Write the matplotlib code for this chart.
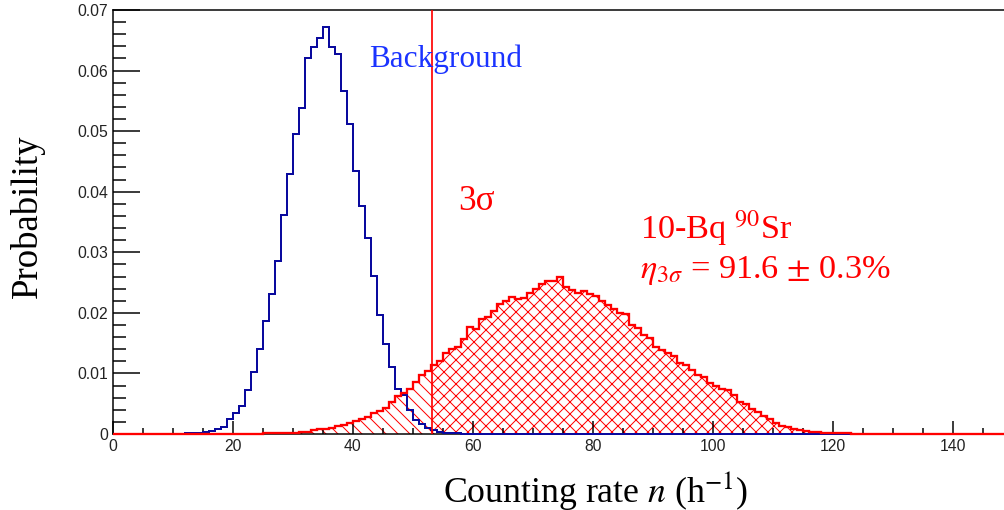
import numpy as np
import matplotlib
matplotlib.use("Agg")
import matplotlib.pyplot as plt
from matplotlib.patches import Rectangle
from matplotlib.ticker import MultipleLocator, FuncFormatter

# histogram binning (1 count/h per bin)
n_edges = np.arange(0, 151, 1)

# background distribution, bins starting at n = 10
bkg_start = 10
bkg_vals = [0.00005, 0.00005, 0.0001, 0.0001, 0.0002, 0.0003, 0.00055, 0.0009,
            0.0012, 0.0024, 0.0035, 0.0047, 0.0073, 0.0103, 0.0141, 0.0187,
            0.0231, 0.0286, 0.0362, 0.0429, 0.0495, 0.0539, 0.0620, 0.0639,
            0.0653, 0.0672, 0.0639, 0.0627, 0.0567, 0.0512, 0.0434, 0.0376,
            0.0323, 0.0261, 0.0197, 0.0149, 0.0111, 0.0074, 0.0064, 0.0040,
            0.0023, 0.0017, 0.0010, 0.0007, 0.0004, 0.0002, 0.0002, 0.0001]

# 10-Bq Sr-90 source distribution, bins starting at n = 25
src_start = 25
src_vals = [0.0001, 0.0001, 0.0001, 0.0002, 0.0002, 0.0002, 0.0003, 0.0003,
            0.0006, 0.0008, 0.0009, 0.0010, 0.0014, 0.0015, 0.0018, 0.0021,
            0.0025, 0.0028, 0.0034, 0.0038, 0.0043, 0.0053, 0.0063, 0.0067,
            0.0075, 0.0086, 0.0097, 0.0104, 0.0114, 0.0120, 0.0134, 0.0141,
            0.0143, 0.0157, 0.0176, 0.0174, 0.0190, 0.0193, 0.0203, 0.0214,
            0.0220, 0.0227, 0.0223, 0.0225, 0.0232, 0.0240, 0.0248, 0.0252,
            0.0252, 0.0260, 0.0242, 0.0238, 0.0232, 0.0236, 0.0231, 0.0228,
            0.0220, 0.0213, 0.0207, 0.0200, 0.0198, 0.0180, 0.0175, 0.0163,
            0.0158, 0.0143, 0.0139, 0.0134, 0.0128, 0.0118, 0.0114, 0.0105,
            0.0097, 0.0094, 0.0084, 0.0079, 0.0075, 0.0073, 0.0064, 0.0053,
            0.0050, 0.0041, 0.0037, 0.0029, 0.0024, 0.0018, 0.0014, 0.0012,
            0.0009, 0.0007, 0.0005, 0.0004, 0.0003, 0.0002, 0.0001, 0.0001,
            0.0001, 0.0001]

threshold = 53.2  # background mean + 3 sigma

y_ticks = [0, 0.01, 0.02, 0.03, 0.04, 0.05, 0.06, 0.07]
x_ticks = [0, 20, 40, 60, 80, 100, 120, 140]


def full_hist(start, vals):
    h = np.zeros(len(n_edges) - 1)
    h[start:start + len(vals)] = vals
    return h


bkg = full_hist(bkg_start, bkg_vals)
src = full_hist(src_start, src_vals)

# dpi chosen so the hatch spacing is ~12 px; sizes below are given in pixels
DPI = 144
W, H = 1004, 510


def pt(px):
    return px * 72 / DPI


plt.rcParams['mathtext.fontset'] = 'stix'
plt.rcParams['hatch.linewidth'] = pt(1.0)
plt.rcParams['hatch.color'] = 'red'

fig = plt.figure(figsize=(W / DPI, H / DPI), dpi=DPI)
ax = fig.add_axes([113 / W, 1 - 434 / H, 1 - 113 / W, 424 / H])

red = '#ff0000'
navy = '#0a0a9e'

# hatched fills of the source histogram, split at the 3 sigma threshold
src_ext = np.append(src, src[-1])
left = ax.fill_between(n_edges, src_ext, step='post', facecolor='none',
                       edgecolor=red, hatch='\\\\\\\\', linewidth=0)
left.set_clip_path(Rectangle((0, 0), threshold, 1, transform=ax.transData))
right = ax.fill_between(n_edges, src_ext, step='post', facecolor='none',
                        edgecolor=red, hatch='xxxx', linewidth=0)
right.set_clip_path(Rectangle((threshold, 0), 200, 1, transform=ax.transData))

ax.stairs(bkg, n_edges, color=navy, linewidth=pt(2.0), zorder=3, clip_on=False)
ax.stairs(src, n_edges, color=red, linewidth=pt(2.3), zorder=4, clip_on=False)
ax.axvline(threshold, color=red, linewidth=pt(1.7), zorder=5)

ax.set_xlim(0, 148.5)
ax.set_ylim(0, 0.07)

ax.set_xticks(x_ticks)
ax.set_yticks(y_ticks)
ax.xaxis.set_minor_locator(MultipleLocator(5))
ax.yaxis.set_minor_locator(MultipleLocator(0.002))
ax.yaxis.set_major_formatter(FuncFormatter(lambda v, p: f'{v:g}'))

tick_font = 'Liberation Sans'
ax.tick_params(axis='both', which='both', direction='in', labelsize=pt(15.8),
               colors='black', top=False, right=False)
ax.tick_params(axis='y', which='major', length=pt(26.7), width=pt(1.5), pad=pt(5))
ax.tick_params(axis='y', which='minor', length=pt(13.3), width=pt(1.5))
ax.tick_params(axis='x', which='major', length=pt(13.3), width=pt(1.5), pad=pt(5))
ax.tick_params(axis='x', which='minor', length=pt(6.3), width=pt(1.5))
for lab in ax.get_xticklabels() + ax.get_yticklabels():
    lab.set_fontfamily(tick_font)
    lab.set_color('#222222')

ax.spines['right'].set_visible(False)
for s in ['left', 'top', 'bottom']:
    ax.spines[s].set_linewidth(pt(1.5))

serif = 'Liberation Serif'
fig.text(27 / W, 1 - 216 / H, 'Probability', rotation=90, ha='center',
         va='center', fontsize=pt(36.7), family=serif)
fig.text(596 / W, 1 - 502 / H, r'Counting rate $n$ (h$^{-1}$)',
         ha='center', va='baseline', fontsize=pt(35.8), family=serif)

fig.text(369 / W, 1 - 67 / H, 'Background', ha='left', va='baseline',
         fontsize=pt(31.3), family=serif, color='#1a33ff')
fig.text(458 / W, 1 - 210 / H, '3σ', ha='left', va='baseline',
         fontsize=pt(35), family=serif, color=red)
fig.text(640 / W, 1 - 239 / H, r'10-Bq $^{90}$Sr', ha='left',
         va='baseline', fontsize=pt(34.2), family=serif, color=red)
fig.text(640 / W, 1 - 278 / H, r'$\eta_{3\sigma}$ = 91.6 $\pm$ 0.3%',
         ha='left', va='baseline', fontsize=pt(34.2), family=serif, color=red)

fig.savefig('out.png', dpi=DPI)
